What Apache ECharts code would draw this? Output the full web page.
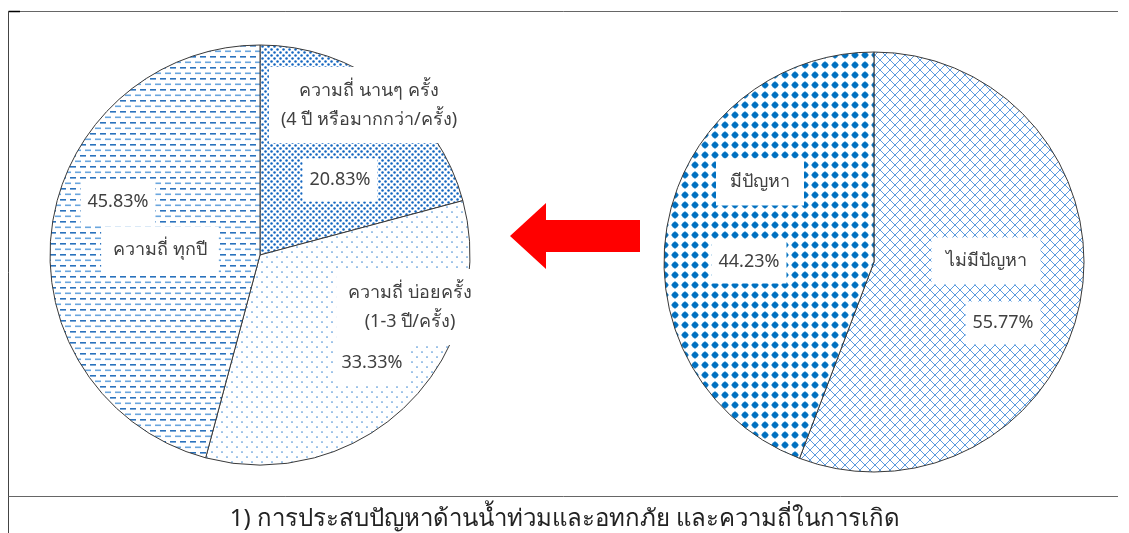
<!DOCTYPE html>
<html>
<head>
<meta charset="utf-8">
<script src="https://cdn.jsdelivr.net/npm/echarts@6/dist/echarts.min.js"></script>
<style>
html,body{margin:0;padding:0;background:#fff;}
#chart{width:1129px;height:533px;}
</style>
</head>
<body>
<div id="chart"></div>
<script>
// ---- data ----
const freqCategories = ['ความถี่ นานๆ ครั้ง\n(4 ปี หรือมากกว่า/ครั้ง)', 'ความถี่ บ่อยครั้ง\n(1-3 ปี/ครั้ง)', 'ความถี่ ทุกปี'];
const freqValues = [20.83, 33.33, 45.83];
const problemCategories = ['ไม่มีปัญหา', 'มีปัญหา'];
const problemValues = [55.77, 44.23];
const captionText = '1) การประสบปัญหาด้านน้ำท่วมและอทกภัย และความถี่ในการเกิด';

// ---- patterns (style) ----
function tile(w, h, draw) {
  const c = document.createElement('canvas');
  c.width = w; c.height = h;
  const ctx = c.getContext('2d');
  ctx.fillStyle = '#fff'; ctx.fillRect(0, 0, w, h);
  draw(ctx);
  return { image: c, repeat: 'repeat' };
}
const patDash = tile(10, 11, ctx => {
  ctx.fillStyle = '#2a72bd'; ctx.fillRect(0, 1, 6, 1.6);
  ctx.fillStyle = '#6aa6de'; ctx.fillRect(5, 6.5, 6, 1.6); ctx.fillRect(-5, 6.5, 6, 1.6);
});
const patDenseDots = tile(6, 6, ctx => {
  ctx.fillStyle = '#1366c0';
  [[1.5,1.5],[4.5,4.5]].forEach(([x,y]) => { ctx.beginPath(); ctx.arc(x, y, 1.25, 0, Math.PI*2); ctx.fill(); });
});
const patSparseDots = tile(10, 10, ctx => {
  ctx.fillStyle = '#4f93d6';
  [[2,2],[7,7]].forEach(([x,y]) => { ctx.beginPath(); ctx.arc(x, y, 0.85, 0, Math.PI*2); ctx.fill(); });
});
const patBigDots = tile(10, 10, ctx => {
  ctx.fillStyle = '#0070c0';
  ctx.beginPath(); ctx.arc(5, 5, 3, 0, Math.PI*2); ctx.fill();
  ctx.fillRect(4.5, 1.2, 1, 7.6); ctx.fillRect(1.2, 4.5, 7.6, 1);
});
const patLattice = tile(10, 10, ctx => {
  ctx.strokeStyle = '#5a9ade'; ctx.lineWidth = 1;
  ctx.beginPath(); ctx.moveTo(0, 0); ctx.lineTo(10, 10); ctx.moveTo(10, 0); ctx.lineTo(0, 10); ctx.stroke();
});

const freqFills = [patDenseDots, patSparseDots, patDash];
const problemFills = [patLattice, patBigDots];

// label anchor positions (pixels), per slice
const freqNamePos = [[369, 105], [410, 307], [160, 250]];
const freqPctPos = [[340, 180], [372, 363], [118, 202]];
const probNamePos = [[986, 261], [760, 182]];
const probPctPos = [[1003, 323], [749, 262]];

const FONT = "'Noto Sans', 'DejaVu Sans', 'Liberation Sans', sans-serif";
const labelBase = {
  show: true, position: 'inside', color: '#404040', fontFamily: FONT, fontSize: 18,
  backgroundColor: '#fff', lineHeight: 29, align: 'center', verticalAlign: 'middle'
};

function pieSeries(center, names, values, fills, posArr, pct, pad) {
  return {
    type: 'pie', center: center, radius: 210, startAngle: 90, clockwise: true,
    silent: true, animation: false, avoidLabelOverlap: false,
    z: pct ? 3 : 2,
    labelLine: { show: false },
    itemStyle: pct ? { color: 'rgba(0,0,0,0)', borderWidth: 0 } : { borderColor: '#3a3a3a', borderWidth: 1 },
    label: Object.assign({}, labelBase, {
      padding: pad,
      formatter: p => pct ? p.value.toFixed(2) + '%' : p.name
    }),
    labelLayout: p => ({ x: posArr[p.dataIndex][0], y: posArr[p.dataIndex][1], align: 'center', verticalAlign: 'middle', hideOverlap: false }),
    data: names.map((n, i) => ({ name: n, value: values[i], itemStyle: pct ? {} : { color: fills[i] } }))
  };
}

const chart = echarts.init(document.getElementById('chart'), null, { renderer: 'canvas' });
chart.setOption({
  backgroundColor: '#fff',
  animation: false,
  series: [
    pieSeries([260, 255], freqCategories, freqValues, freqFills, freqNamePos, false, [9, 12]),
    pieSeries([260, 255], freqCategories, freqValues, freqFills, freqPctPos, true, [7, 7]),
    pieSeries([874, 262], problemCategories, problemValues, problemFills, probNamePos, false, [9, 14]),
    pieSeries([874, 262], problemCategories, problemValues, problemFills, probPctPos, true, [7, 7])
  ],
  graphic: [
    { type: 'line', shape: { x1: 8.5, y1: 11.5, x2: 1118, y2: 11.5 }, style: { stroke: '#666', lineWidth: 1 } },
    { type: 'line', shape: { x1: 8.5, y1: 11.5, x2: 20, y2: 11.5 }, style: { stroke: '#000', lineWidth: 1.5 } },
    { type: 'line', shape: { x1: 8.5, y1: 11.5, x2: 8.5, y2: 533 }, style: { stroke: '#444', lineWidth: 1 } },
    { type: 'line', shape: { x1: 8.5, y1: 496.5, x2: 1118, y2: 496.5 }, style: { stroke: '#666', lineWidth: 1 } },
    { type: 'polygon', shape: { points: [[510, 236], [546, 203], [546, 220], [640, 220], [640, 252], [546, 252], [546, 269]] }, style: { fill: '#ff0000' } },
    { type: 'text', x: 565, y: 519, style: { text: captionText, fill: '#222', font: "24px " + FONT, align: 'center', verticalAlign: 'middle' } }
  ]
});
</script>
</body>
</html>
